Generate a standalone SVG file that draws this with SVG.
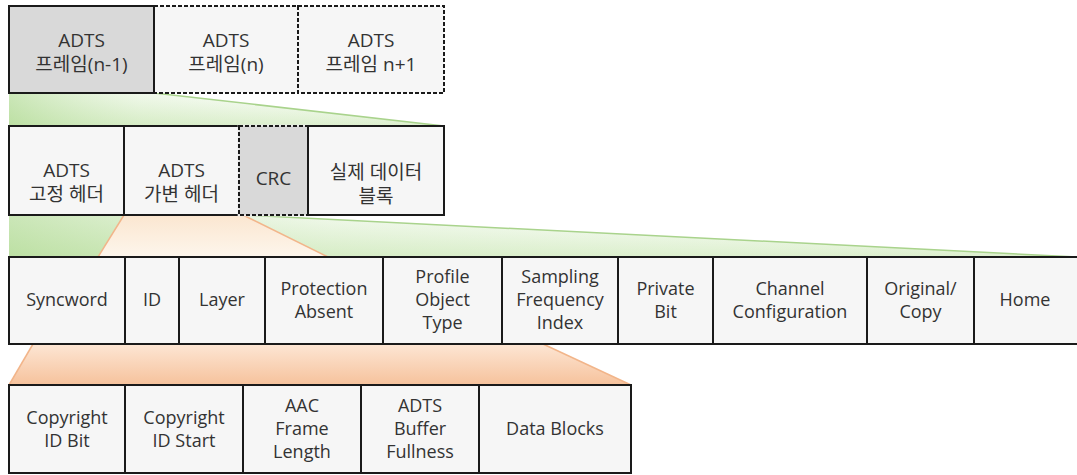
<svg xmlns="http://www.w3.org/2000/svg" width="1077" height="475" viewBox="0 0 1077 475">
<style>
text{font-family:"Open Sans","Noto Sans CJK KR",sans-serif;fill:#333;text-anchor:middle}
.t19{font-size:19px}
.t18{font-size:18px}
.box{fill:#f6f6f6;stroke:#1a1a1a;stroke-width:2}
.grey{fill:#d9d9d9;stroke:#1a1a1a;stroke-width:2}
.dash{stroke-dasharray:4 2}
.erase{fill:none;stroke-width:2.6}
.gedge{stroke:#a9d38c;stroke-width:1.5;fill:none}
.oedge{stroke:#f2b58a;stroke-width:1.5;fill:none}
</style>
<defs>
<linearGradient id="gv" x1="0" y1="0" x2="0" y2="1">
<stop offset="0" stop-color="#ffffff"/>
<stop offset="1" stop-color="#dbefcc"/>
</linearGradient>
<linearGradient id="gh" x1="0" y1="0" x2="1" y2="0">
<stop offset="0" stop-color="#a8d688" stop-opacity="0.6"/>
<stop offset="0.3" stop-color="#c6e5b0" stop-opacity="0.25"/>
<stop offset="1" stop-color="#ffffff" stop-opacity="0"/>
</linearGradient>
<linearGradient id="o1" x1="0" y1="0" x2="0" y2="1">
<stop offset="0" stop-color="#fbe6d0"/>
<stop offset="1" stop-color="#fdf6ec"/>
</linearGradient>
<linearGradient id="o2" x1="0" y1="0" x2="0" y2="1">
<stop offset="0" stop-color="#fde6d4"/>
<stop offset="1" stop-color="#f6c29c"/>
</linearGradient>
</defs>

<g id="connectors">
<g id="fan-frame">
<polygon points="9,93 154,93 444,126 9,126" fill="url(#gv)"/>
<polygon points="9,93 154,93 444,126 9,126" fill="url(#gh)"/>
<line class="gedge" x1="154" y1="93" x2="444" y2="126"/>
</g>
<g id="fan-header">
<polygon points="9,215 245,215 1077,257 9,257" fill="url(#gv)"/>
<polygon points="9,215 245,215 1077,257 9,257" fill="url(#gh)"/>
<line class="gedge" x1="245" y1="215" x2="1077" y2="257"/>
</g>
<g id="fan-variable">
<polygon points="124,215 243,215 328,257 98,257" fill="url(#o1)"/>
<line class="oedge" x1="124" y1="215" x2="98" y2="257"/>
<line class="oedge" x1="243" y1="215" x2="328" y2="257"/>
</g>
<g id="fan-variable2">
<polygon points="33,344 543,344 631,385 9,385" fill="url(#o2)"/>
<line class="oedge" x1="33" y1="344" x2="9" y2="385"/>
<line class="oedge" x1="543" y1="344" x2="631" y2="385"/>
</g>
</g>

<!-- Row 1 -->
<g id="frame-n">
<rect class="box dash" x="154" y="6" width="144" height="87"/>
<text class="t19" x="226" y="47">ADTS</text>
<text class="t19" x="226" y="71">프레임(n)</text>
</g>
<g id="frame-n1">
<rect class="box dash" x="298" y="6" width="146" height="87"/>
<text class="t19" x="371" y="47">ADTS</text>
<text class="t19" x="371" y="71">프레임 n+1</text>
</g>
<g id="frame-n-1">
<rect class="grey" x="9" y="6" width="145" height="87"/>
<text class="t19" x="81.5" y="47">ADTS</text>
<text class="t19" x="81.5" y="71">프레임(n-1)</text>
</g>

<!-- Row 2 -->
<g id="fixed-header">
<rect class="box" x="9" y="126" width="115" height="89"/>
<text class="t19" x="66.5" y="177">ADTS</text>
<text class="t19" x="66.5" y="201">고정 헤더</text>
</g>
<g id="variable-header">
<rect class="box" x="124" y="126" width="115" height="89"/>
<text class="t19" x="181.5" y="177">ADTS</text>
<text class="t19" x="181.5" y="201">가변 헤더</text>
</g>
<g id="crc">
<rect class="erase" x="239" y="126" width="69" height="89" stroke="#eaeaea"/>
<rect class="grey dash" x="239" y="126" width="69" height="89"/>
<text class="t19" x="273.5" y="185">CRC</text>
</g>
<g id="data-block">
<rect class="box" x="308" y="126" width="136" height="89"/>
<text class="t19" x="376" y="179">실제 데이터</text>
<text class="t19" x="376" y="203">블록</text>
</g>

<!-- Row 3 -->
<g id="syncword">
<rect class="box" x="9" y="257" width="116" height="87"/>
<text class="t18" x="67" y="306">Syncword</text>
</g>
<g id="id">
<rect class="box" x="125" y="257" width="54" height="87"/>
<text class="t18" x="152" y="306">ID</text>
</g>
<g id="layer">
<rect class="box" x="179" y="257" width="86" height="87"/>
<text class="t18" x="222" y="306">Layer</text>
</g>
<g id="protection-absent">
<rect class="box" x="265" y="257" width="118" height="87"/>
<text class="t18" x="324" y="294.5">Protection</text>
<text class="t18" x="324" y="317.5">Absent</text>
</g>
<g id="profile-object-type">
<rect class="box" x="383" y="257" width="119" height="87"/>
<text class="t18" x="442.5" y="283">Profile</text>
<text class="t18" x="442.5" y="306">Object</text>
<text class="t18" x="442.5" y="329">Type</text>
</g>
<g id="sampling-frequency-index">
<rect class="box" x="502" y="257" width="116" height="87"/>
<text class="t18" x="560" y="283">Sampling</text>
<text class="t18" x="560" y="306">Frequency</text>
<text class="t18" x="560" y="329">Index</text>
</g>
<g id="private-bit">
<rect class="box" x="618" y="257" width="95" height="87"/>
<text class="t18" x="665.5" y="294.5">Private</text>
<text class="t18" x="665.5" y="317.5">Bit</text>
</g>
<g id="channel-configuration">
<rect class="box" x="713" y="257" width="154" height="87"/>
<text class="t18" x="790" y="294.5">Channel</text>
<text class="t18" x="790" y="317.5">Configuration</text>
</g>
<g id="original-copy">
<rect class="box" x="867" y="257" width="107" height="87"/>
<text class="t18" x="920.5" y="294.5">Original/</text>
<text class="t18" x="920.5" y="317.5">Copy</text>
</g>
<g id="home">
<rect class="box" x="974" y="257" width="104" height="87"/>
<text class="t18" x="1025" y="306">Home</text>
</g>

<!-- Row 4 -->
<g id="copyright-id-bit">
<rect class="box" x="9" y="385" width="116" height="88"/>
<text class="t18" x="67" y="424">Copyright</text>
<text class="t18" x="67" y="447">ID Bit</text>
</g>
<g id="copyright-id-start">
<rect class="box" x="125" y="385" width="118" height="88"/>
<text class="t18" x="184" y="424">Copyright</text>
<text class="t18" x="184" y="447">ID Start</text>
</g>
<g id="aac-frame-length">
<rect class="box" x="243" y="385" width="118" height="88"/>
<text class="t18" x="302" y="412">AAC</text>
<text class="t18" x="302" y="435">Frame</text>
<text class="t18" x="302" y="458">Length</text>
</g>
<g id="adts-buffer-fullness">
<rect class="box" x="361" y="385" width="118" height="88"/>
<text class="t18" x="420" y="412">ADTS</text>
<text class="t18" x="420" y="435">Buffer</text>
<text class="t18" x="420" y="458">Fullness</text>
</g>
<g id="data-blocks">
<rect class="box" x="479" y="385" width="152" height="88"/>
<text class="t18" x="555" y="435">Data Blocks</text>
</g>
</svg>
